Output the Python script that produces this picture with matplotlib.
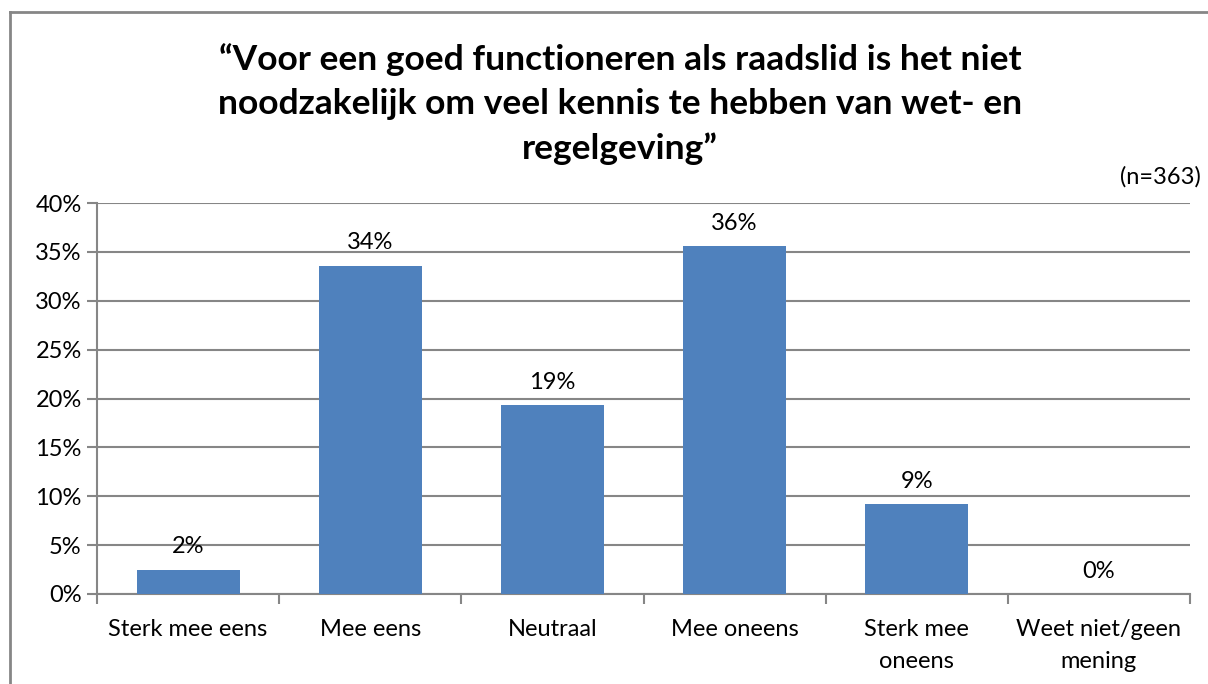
import matplotlib
matplotlib.use("Agg")
import matplotlib.pyplot as plt
from matplotlib.lines import Line2D
from matplotlib.ticker import FixedLocator

plt.rcParams['font.family'] = ['Lato', 'DejaVu Sans']

categories = ["Sterk mee eens", "Mee eens", "Neutraal", "Mee oneens", "Sterk mee\noneens", "Weet niet/geen\nmening"]
values = [2.5, 33.6, 19.3, 35.6, 9.2, 0.0]
labels = ["2%", "34%", "19%", "36%", "9%", "0%"]
yticks = [0, 5, 10, 15, 20, 25, 30, 35, 40]
title = "\u201cVoor een goed functioneren als raadslid is het niet\nnoodzakelijk om veel kennis te hebben van wet- en\nregelgeving\u201d"
note = "(n=363)"

W, H = 1208, 684
fig = plt.figure(figsize=(W/100, H/100), dpi=100)
ax = fig.add_axes([97/W, 1-594/H, (1190-97)/W, (594-203)/H])

grid_c = "#868686"
bar_c = "#4F81BD"
fs = 17
x = list(range(len(categories)))
ax.bar(x, values, width=0.565, color=bar_c, zorder=3)
ax.set_xlim(-0.5, len(categories)-0.5)
ax.set_ylim(0, 40)
ax.set_yticks(yticks)
ax.set_yticklabels([f"{t}%" for t in yticks], fontsize=fs)
ax.yaxis.grid(True, color=grid_c, linewidth=1.5, zorder=0)
ax.set_axisbelow(True)

ax.set_xticks(x)
ax.set_xticklabels(categories, fontsize=fs, linespacing=1.62)
ax.tick_params(axis='x', length=0, pad=18)
ax.xaxis.set_minor_locator(FixedLocator([i-0.5 for i in range(len(categories)+1)]))
ax.tick_params(axis='x', which='minor', length=7, width=1.5, color=grid_c, direction='out')
ax.tick_params(axis='y', length=7, width=1.5, color=grid_c, pad=4)

for s in ['top', 'right']:
    ax.spines[s].set_visible(False)
ax.spines['left'].set_color(grid_c)
ax.spines['left'].set_linewidth(1.5)
ax.spines['bottom'].set_color(grid_c)
ax.spines['bottom'].set_linewidth(1.5)

for xi, v, lab in zip(x, values, labels):
    ax.annotate(lab, (xi, v), xytext=(0, 9), textcoords='offset points',
                ha='center', va='bottom', fontsize=fs)

fig.text(620/W, 1-104/H, title, ha='center', va='center', fontsize=25.5,
         fontweight='bold', linespacing=1.45)
fig.text(1201/W, 1-177/H, note, ha='right', va='center', fontsize=fs)

# figure border (left and top visible)
fig.add_artist(Line2D([9.5/W, 9.5/W], [0, 1-12/H], color=grid_c, linewidth=2, transform=fig.transFigure))
fig.add_artist(Line2D([9.5/W, 1], [1-12/H, 1-12/H], color=grid_c, linewidth=2, transform=fig.transFigure))

fig.savefig("out.png", dpi=100)
